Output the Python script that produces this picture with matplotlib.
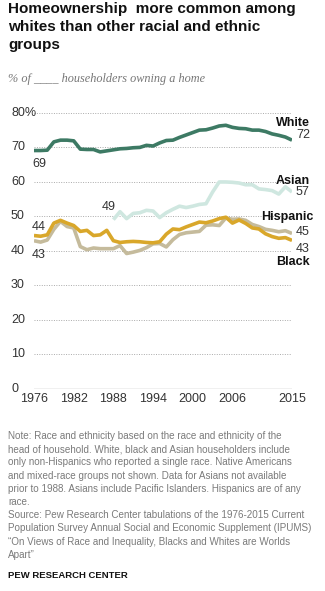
import matplotlib.pyplot as plt
from matplotlib.ticker import FixedLocator

plt.rcParams['font.family'] = ['Liberation Sans', 'DejaVu Sans']

years = list(range(1976, 2016))

white = [69.0, 69.0, 69.1, 71.5, 72.0, 72.0, 71.8, 69.4, 69.3, 69.3,
         68.6, 68.9, 69.2, 69.5, 69.6, 69.8, 69.9, 70.5, 70.3, 71.2,
         71.9, 72.0, 72.8, 73.5, 74.2, 74.9, 75.0, 75.5, 76.1, 76.3,
         75.7, 75.4, 75.3, 74.9, 74.9, 74.5, 73.8, 73.4, 72.9, 72.0]

asian_years = list(range(1988, 2016))
asian = [49.0, 51.3, 49.3, 50.8, 51.0, 51.7, 51.5, 49.6, 51.0, 52.0,
         52.9, 52.5, 52.9, 53.4, 53.6, 57.0, 59.9, 59.9, 59.8, 59.6,
         59.1, 59.1, 57.9, 57.7, 57.4, 56.4, 58.5, 57.0]

hispanic = [42.9, 42.5, 43.1, 46.2, 48.5, 47.0, 46.6, 41.2, 40.3, 40.8,
            40.6, 40.6, 40.6, 41.5, 39.2, 39.6, 40.1, 40.9, 42.0, 42.1,
            41.1, 43.2, 44.7, 45.2, 45.4, 45.6, 47.4, 47.5, 47.3, 49.5,
            49.1, 49.2, 48.8, 47.6, 47.0, 46.2, 45.9, 45.5, 45.8, 45.0]

black = [44.4, 44.2, 44.6, 48.0, 48.8, 48.0, 47.3, 45.6, 45.9, 44.4,
         44.6, 45.9, 42.9, 42.4, 42.6, 42.7, 42.6, 42.4, 42.3, 42.6,
         44.8, 46.3, 46.1, 46.9, 47.6, 48.3, 48.1, 48.6, 49.3, 49.7,
         48.0, 48.9, 47.9, 46.6, 46.3, 44.9, 44.1, 43.6, 43.8, 43.0]

xticks = [1976, 1982, 1988, 1994, 2000, 2006, 2015]
yticks = [0, 10, 20, 30, 40, 50, 60, 70, 80]
ylabels = ['0', '10', '20', '30', '40', '50', '60', '70', '80%']

note = ("Note: Race and ethnicity based on the race and ethnicity of the\n"
        "head of household. White, black and Asian householders include\n"
        "only non-Hispanics who reported a single race. Native Americans\n"
        "and mixed-race groups not shown. Data for Asians not available\n"
        "prior to 1988. Asians include Pacific Islanders. Hispanics are of any\n"
        "race.\n"
        "Source: Pew Research Center tabulations of the 1976-2015 Current\n"
        "Population Survey Annual Social and Economic Supplement (IPUMS)\n"
        "\u201cOn Views of Race and Inequality, Blacks and Whites are Worlds\n"
        "Apart\u201d")

fig = plt.figure(figsize=(3.25, 5.91), dpi=100)
ax = fig.add_axes([34 / 325, 1 - 389 / 591, 258 / 325, 276.5 / 591])

lw = 2.6
ax.plot(years, hispanic, color='#c5bb9c', lw=lw, solid_capstyle='butt')
ax.plot(years, black, color='#d9a72a', lw=lw, solid_capstyle='butt')
ax.plot(asian_years, asian, color='#cfe7e0', lw=lw, solid_capstyle='butt')
ax.plot(years, white, color='#3d7a64', lw=lw, solid_capstyle='butt')

ax.set_xlim(1976, 2015)
ax.set_ylim(0, 80)
for v in yticks[1:]:
    ax.axhline(v, color='#aaaaaa', lw=0.7, ls=(0, (1, 1.5)), zorder=0)
ax.axhline(0, color='#8c8c8c', lw=0.9, zorder=0)

for s in ax.spines.values():
    s.set_visible(False)
ax.set_yticks([])
ax.xaxis.set_major_locator(FixedLocator(xticks))
ax.set_xticklabels([str(y) for y in xticks])
ax.tick_params(axis='x', length=0, pad=3, labelsize=9, labelcolor='#333333')

for v, lab in zip(yticks, ylabels):
    fig.text(11 / 325, 1 - (389 - v * 3.456) / 591, lab, fontsize=9,
             color='#333333', ha='left', va='center')

# start-of-series values
ax.text(1975.7, 65.1, '69', fontsize=9, color='#333333', ha='left', va='center', clip_on=False)
ax.text(1975.7, 46.8, '44', fontsize=9, color='#333333', ha='left', va='center', clip_on=False)
ax.text(1975.7, 38.7, '43', fontsize=9, color='#333333', ha='left', va='center', clip_on=False)
ax.text(1988.3, 52.6, '49', fontsize=9, color='#333333', ha='right', va='center', clip_on=False)

# end-of-series labels
end_labels = [('White', 77.0, True), ('72', 73.5, False),
              ('Asian', 60.1, True), ('57', 57.0, False),
              ('Hispanic', 49.7, True), ('45', 45.4, False),
              ('43', 40.4, False), ('Black', 36.7, True)]
for txt, yv, bold in end_labels:
    x_right = 2018.3 if txt == 'Hispanic' else 2017.7
    ax.text(x_right, yv, txt, fontsize=9, ha='right', va='center', clip_on=False,
            fontweight='bold' if bold else 'normal',
            color='#111111' if bold else '#333333')

fig.text(8 / 325, 1 - 27 / 591,
         "Homeownership  more common among\nwhites than other racial and ethnic\ngroups",
         fontsize=11, fontweight='bold', color='#111111', ha='left', va='center',
         linespacing=1.35)
fig.text(8 / 325, 1 - 79 / 591, "% of ____ householders owning a home",
         fontsize=8.8, style='italic', family='Liberation Serif', color='#777777',
         ha='left', va='center')

fig.text(8 / 325, 1 - 431 / 591, note, fontsize=7.15, color='#7a7a7a',
         ha='left', va='top', linespacing=1.4)
fig.text(8 / 325, 1 - 575 / 591, "PEW RESEARCH CENTER", fontsize=6.8,
         fontweight='bold', color='#111111', ha='left', va='center')

fig.savefig('out.png', dpi=100)
